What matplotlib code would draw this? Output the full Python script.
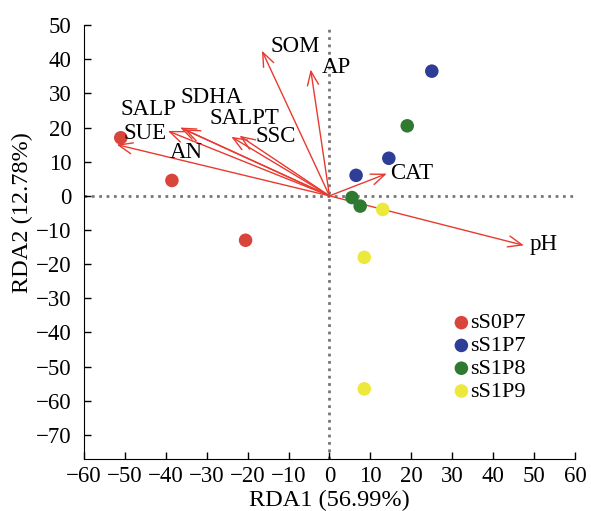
import matplotlib.pyplot as plt
import numpy as np

# sample scores
groups = ['sS0P7', 'sS1P7', 'sS1P8', 'sS1P9']
colors = ['#d8453a', '#2e3d96', '#2f7a30', '#ede83c']
rda1 = [[-51, -38.5, -20.5], [25, 14.5, 6.5], [19, 5.5, 7.5], [13, 8.5, 8.5]]
rda2 = [[17, 4.5, -13], [36.5, 11, 6], [20.5, -0.5, -3], [-4, -18, -56.5]]

# environmental factor arrows
factors = ['SOM', 'AP', 'SALP', 'SDHA', 'AN', 'SUE', 'SALPT', 'SSC', 'CAT', 'pH']
arr_x = [-16.5, -4.6, -39.5, -36.5, -35.5, -52, -24, -22, 14, 47.5]
arr_y = [42.5, 37, 19, 20, 19.5, 15, 17.3, 17.6, 6.5, -14.5]
lab_x = [-14.5, -1.8, -51, -36.3, -39, -50.3, -29.2, -18.0, 14.8, 48.8]
lab_y = [43.6, 37.5, 25.4, 28.9, 12.7, 18.3, 22.6, 17.4, 6.5, -14.2]

plt.rcParams['font.family'] = ['Liberation Serif', 'DejaVu Serif']

fig = plt.figure(figsize=(5.91, 5.11), dpi=100)
ax = fig.add_axes([0.142, 0.102, 0.831, 0.849])

ax.axhline(0, color='#777777', ls=':', lw=2, zorder=1)
ax.axvline(0, color='#777777', ls=':', lw=2, zorder=1)

for i in range(len(factors)):
    ax.annotate('', xy=(arr_x[i], arr_y[i]), xytext=(0, 0),
                arrowprops=dict(arrowstyle='->,head_length=1.0,head_width=0.4',
                                color='#e83a30', lw=1.0, shrinkA=0, shrinkB=0), zorder=2)
    ax.text(lab_x[i], lab_y[i], factors[i], fontsize=16.5, ha='left', va='center', zorder=4)

for i in range(len(groups)):
    ax.scatter(rda1[i], rda2[i], s=95, color=colors[i], label=groups[i], zorder=3, edgecolors='none')

ax.set_xlim(-60, 60)
ax.set_ylim(-77, 50)
ax.set_xticks(np.arange(-60, 61, 10))
ax.set_yticks(np.arange(-70, 51, 10))
ax.set_xticklabels([str(v).replace('-', '\u2212') for v in range(-60, 61, 10)])
ax.set_yticklabels([str(v).replace('-', '\u2212') for v in range(-70, 51, 10)])
ax.tick_params(direction='in', labelsize=16.5, length=5, width=1)
ax.tick_params(axis='y', pad=9)
ax.tick_params(axis='x', pad=5)
ax.spines['top'].set_visible(False)
ax.spines['right'].set_visible(False)
ax.set_xlabel('RDA1 (56.99%)', fontsize=17.5, labelpad=2)
ax.set_ylabel('RDA2 (12.78%)', fontsize=17.5)
ax.yaxis.set_label_coords(-0.104, 0.567)

ax.legend(loc='upper left', bbox_to_anchor=(0.712, 0.362), frameon=False, fontsize=16,
          handletextpad=-0.35, labelspacing=0.1, borderpad=0, handlelength=1.5)

fig.savefig('out.png', dpi=100)
